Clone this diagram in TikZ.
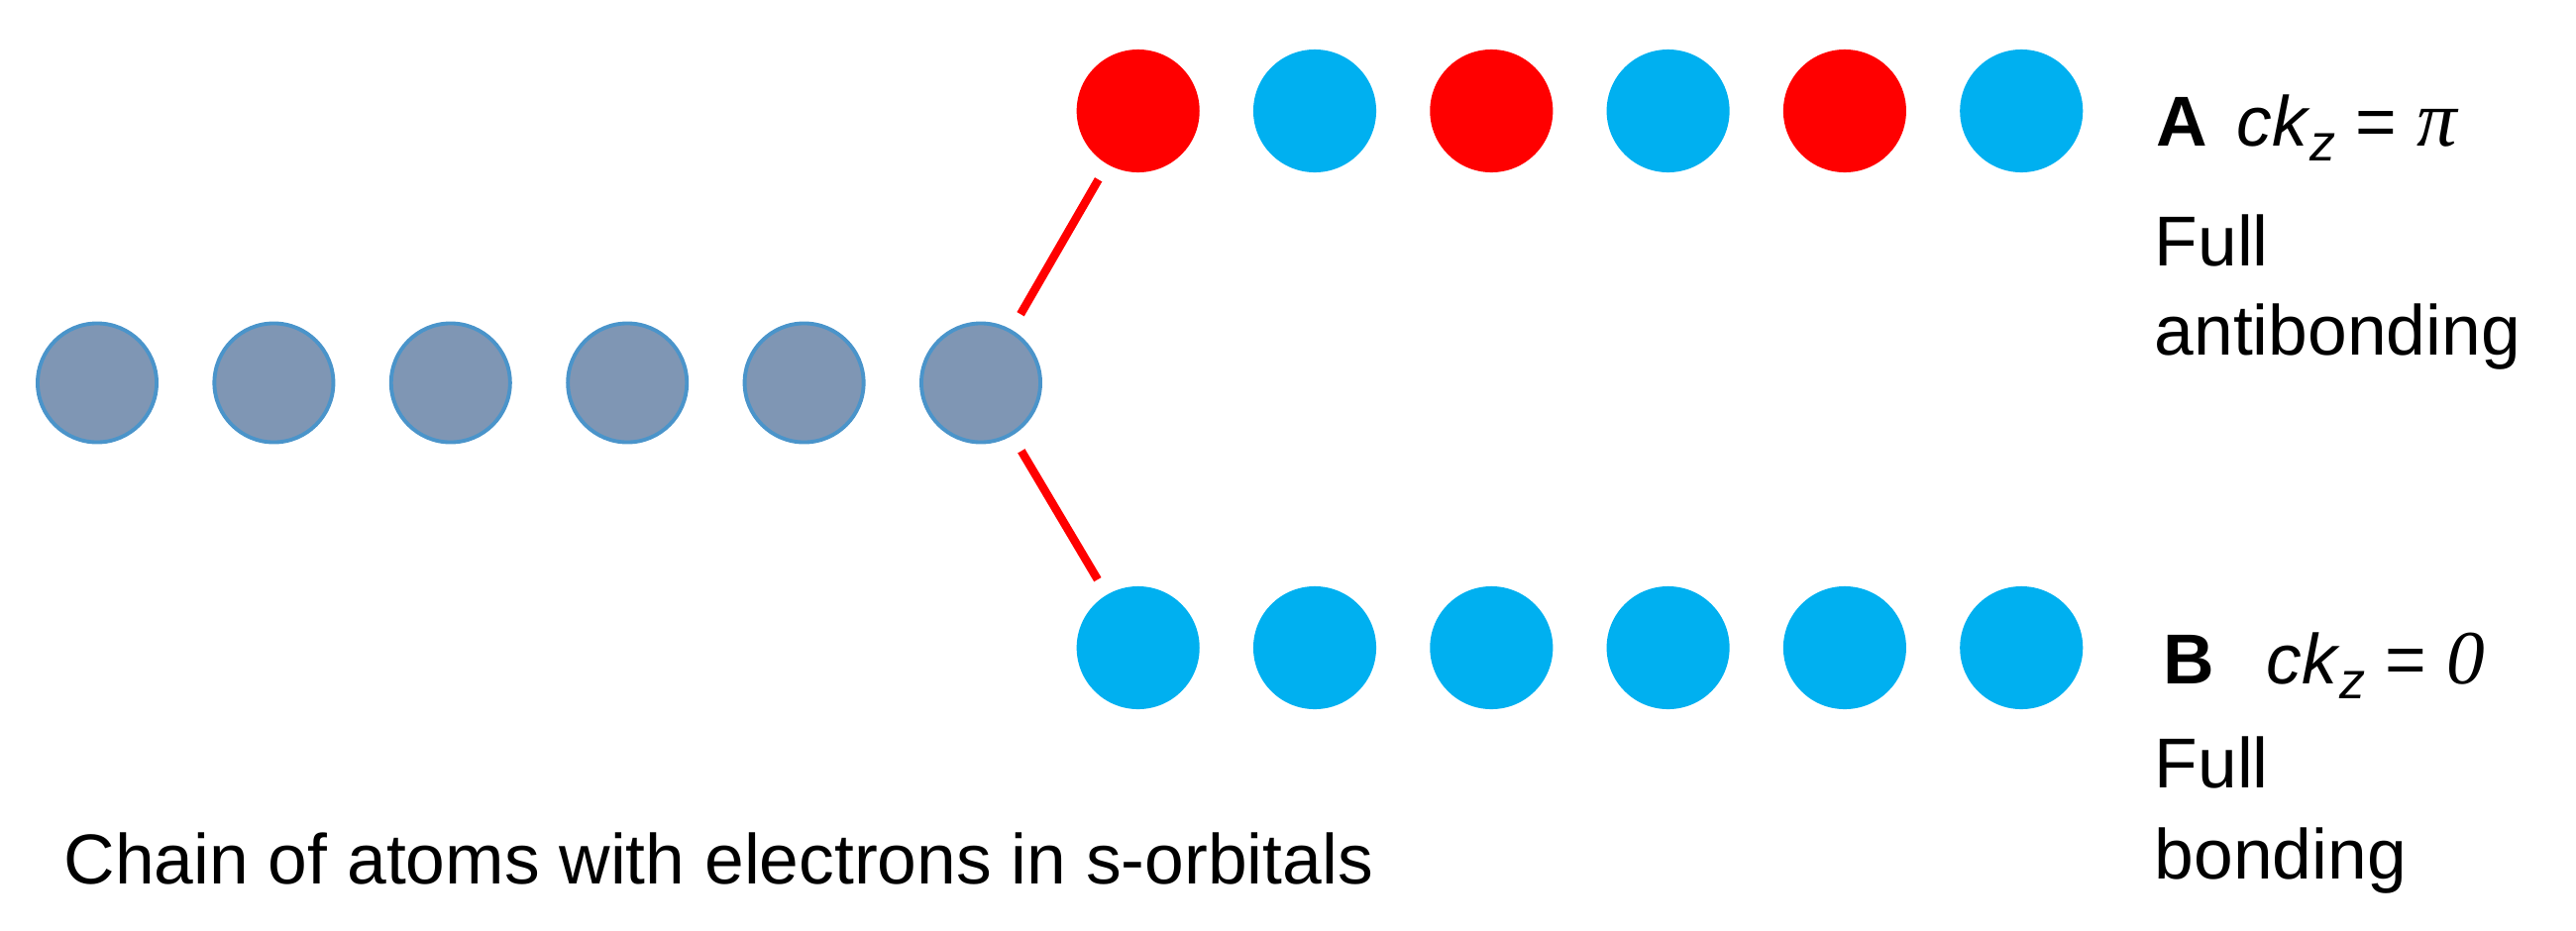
\documentclass[tikz,border=0pt]{standalone}
\usepackage{fontspec}
\setmainfont{Liberation Sans}
\newfontfamily\mathserif{Liberation Serif}
\usepackage{xcolor}
\usetikzlibrary{positioning}
\definecolor{atomgray}{RGB}{127,150,180}
\definecolor{atomedge}{RGB}{74,148,202}
\definecolor{antired}{RGB}{255,0,0}
\definecolor{bondblue}{RGB}{0,176,240}
\newcommand{\ckz}{\textit{ck}\raisebox{-0.15cm}{\fontsize{14.8}{15}\selectfont\itshape z}}

\begin{document}
\begin{tikzpicture}[
    x=0.01cm,y=-0.01cm,
    font=\fontsize{20.3}{25.6}\selectfont,
    atom/.style={circle,inner sep=0pt,outer sep=0pt,minimum size=1.24cm},
    chainatom/.style={atom,minimum size=1.20cm,draw=atomedge,line width=1.1pt,fill=atomgray},
    antiatom/.style={atom,fill=antired},
    bondatom/.style={atom,fill=bondblue},
    branch/.style={draw=antired,line width=2.4pt,shorten <=0.2cm,shorten >=0.18cm},
    lbl/.style={anchor=base west,inner sep=0pt}
  ]
    \useasboundingbox (0,0) rectangle (2600,939);
    % chain of atoms
    \node[chainatom] (c1) at (98,386.5) {};
    \node[chainatom,right=0.583cm of c1] (c2) {};
    \node[chainatom,right=0.583cm of c2] (c3) {};
    \node[chainatom,right=0.583cm of c3] (c4) {};
    \node[chainatom,right=0.583cm of c4] (c5) {};
    \node[chainatom,right=0.583cm of c5] (c6) {};
    % A: alternating phases
    \node[antiatom] (a1) at (1148.7,112) {};
    \node[bondatom,right=0.542cm of a1] (a2) {};
    \node[antiatom,right=0.542cm of a2] (a3) {};
    \node[bondatom,right=0.542cm of a3] (a4) {};
    \node[antiatom,right=0.542cm of a4] (a5) {};
    \node[bondatom,right=0.542cm of a5] (a6) {};
    % B: all in phase
    \node[bondatom] (b1) at (1148.7,654) {};
    \node[bondatom,right=0.542cm of b1] (b2) {};
    \node[bondatom,right=0.542cm of b2] (b3) {};
    \node[bondatom,right=0.542cm of b3] (b4) {};
    \node[bondatom,right=0.542cm of b4] (b5) {};
    \node[bondatom,right=0.542cm of b5] (b6) {};
    \draw[branch] (c6) -- (a1);
    \draw[branch] (c6) -- (b1);
    % labels
    \node[lbl] (labA) at (2176,147) {\textbf{A}\hspace{0.29cm}\ckz{} = {\mathserif\itshape\fontsize{23}{25}\selectfont π}};
    \node[lbl] (fullA) at (2174,268) {Full};
    \node[lbl] (antiA) at ([yshift=-0.9cm]fullA.base west) {antibonding};
    \node[lbl] (labB) at (2183,690) {\textbf{B}\hspace{0.52cm}\ckz{} = {\mathserif\itshape\fontsize{22}{25}\selectfont 0}};
    \node[lbl] (fullB) at (2174,795) {Full};
    \node[lbl] (bondB) at ([yshift=-0.92cm]fullB.base west) {bonding};
    \node[lbl] (caption) at (64,892) {Chain of atoms with electrons in s-orbitals};
  \end{tikzpicture}
\end{document}
